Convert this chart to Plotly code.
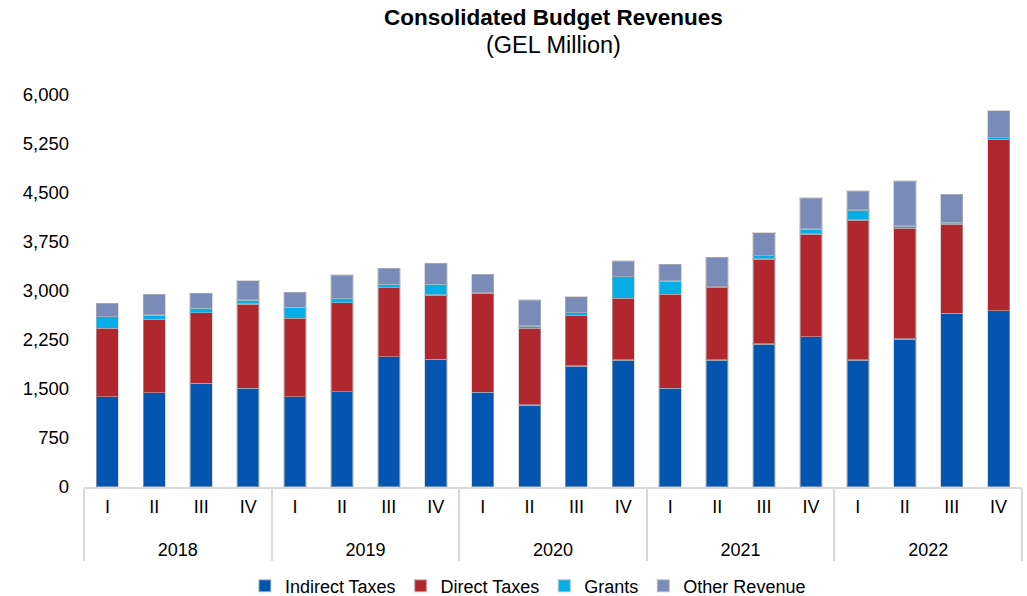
import plotly.graph_objects as go

year_labels = ["2018", "2019", "2020", "2021", "2022"]
quarter_labels = ["I", "II", "III", "IV"]
years = [y for y in year_labels for _ in quarter_labels]
quarters = quarter_labels * len(year_labels)

indirect_taxes = [1382, 1444, 1587, 1511, 1382, 1459, 1995, 1954, 1449, 1255,
                  1852, 1944, 1511, 1944, 2189, 2301, 1944, 2265, 2658, 2699]
direct_taxes = [1047, 1123, 1081, 1290, 1200, 1362, 1056, 985, 1516, 1174,
                776, 944, 1438, 1107, 1301, 1572, 2143, 1695, 1368, 2623]
grants = [178, 66, 67, 61, 168, 67, 51, 163, 10, 35,
          40, 331, 204, 15, 51, 76, 153, 35, 25, 25]
other_revenue = [205, 316, 230, 296, 230, 357, 245, 322, 280, 398,
                 245, 240, 256, 450, 352, 475, 291, 689, 429, 413]

series = [
    ("Indirect Taxes", indirect_taxes, "#0455B0"),
    ("Direct Taxes", direct_taxes, "#B0272D"),
    ("Grants", grants, "#06AEE8"),
    ("Other Revenue", other_revenue, "#7A8BB8"),
]

y_ticks = [0, 750, 1500, 2250, 3000, 3750, 4500, 5250, 6000]

# leading line break pushes the year row a little lower, as in the reference
x_years = ["<br>" + y for y in years]

fig = go.Figure()
for name, vals, color in series:
    fig.add_trace(go.Bar(
        x=[x_years, quarters], y=vals, name=name,
        marker=dict(color=color, line=dict(color="rgba(190,190,190,0.55)", width=1.5)),
    ))

fig.update_layout(
    barmode="stack",
    bargap=0.53,
    width=1027, height=596,
    paper_bgcolor="white", plot_bgcolor="white",
    margin=dict(l=84, r=5, t=95, b=109),
    font=dict(family="Liberation Sans, Arial, sans-serif", color="#000000", size=18),
    showlegend=True,
    legend=dict(
        orientation="h", xref="container", yref="container",
        x=0.514, xanchor="center", y=0.0168, yanchor="middle",
        font=dict(size=18), itemwidth=30, traceorder="normal",
    ),
    annotations=[
        dict(text="<b>Consolidated Budget Revenues</b>", xref="paper", yref="paper",
             x=0.5, y=1 + (95 - 25) / 392, xanchor="center", yanchor="bottom",
             yshift=-7, showarrow=False, font=dict(size=22.5)),
        dict(text="(GEL Million)", xref="paper", yref="paper",
             x=0.5, y=1 + (95 - 55) / 392, xanchor="center", yanchor="bottom",
             yshift=-5, showarrow=False, font=dict(size=23.5)),
    ],
)

fig.update_xaxes(
    type="multicategory", automargin=False,
    showline=True, linecolor="#D9D9D9", linewidth=1.5,
    showdividers=True, dividercolor="#D9D9D9", dividerwidth=1.5,
    showgrid=False, ticks="", tickfont=dict(size=18), ticklabelstandoff=3,
)
fig.update_yaxes(
    range=[0, 6000], tickvals=y_ticks, automargin=False,
    ticktext=[f"{v:,}" for v in y_ticks],
    showgrid=False, zeroline=False, showline=False,
    ticklabelstandoff=14, tickfont=dict(size=18.5),
)

fig.write_html(
    "out.html",
    config={"displayModeBar": False},
    post_script="document.body.style.margin='0';",
)
